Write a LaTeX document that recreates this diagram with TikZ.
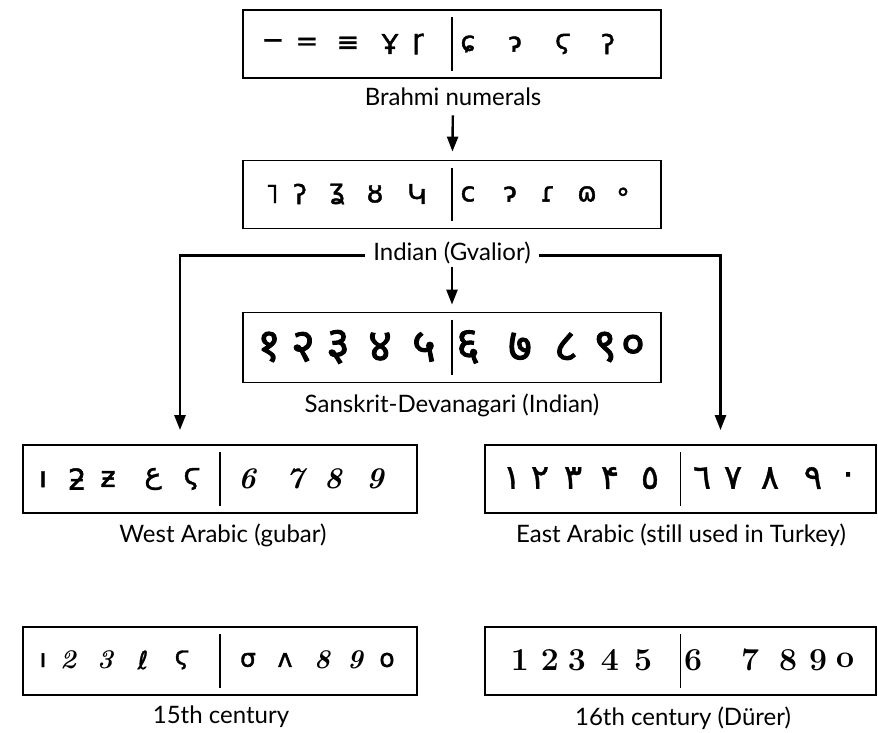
\documentclass[tikz,border=0pt]{standalone}
\usepackage{fontspec}
\setsansfont{Lato}[Ligatures=NoCommon]
\newfontfamily\brahmifont[FakeBold=1.5]{DejaVu Sans}
\newfontfamily\devfont[Script=Devanagari,FakeBold=2]{Noto Sans}
\newfontfamily\arabicfont[Script=Arabic,FakeBold=1]{DejaVu Sans}
\usepackage{tikz}
\usetikzlibrary{arrows.meta}

\tikzset{
  numbox/.style={draw,line width=1.8pt,minimum width=#1,minimum height=68pt,inner sep=0pt},
  numbox/.default=418pt,
  divider/.style={line width=1.8pt},
  caption/.style={anchor=base,inner sep=0pt,font=\sffamily\fontsize{24}{28}\selectfont},
  glyph/.style={inner sep=0pt,font=#1},
  link/.style={line width=2.4pt}
}

\begin{document}
\begin{tikzpicture}[x=1pt,y=-1pt,>={Triangle[length=15pt,width=11pt]}]
                \useasboundingbox(0,0)rectangle(878,733);
                \node[numbox](brahmi)at(452, 44){};
                \node[numbox](gvalior)at(452, 194.5){};
                \node[numbox,minimum height=70pt](sanskrit)at(452, 347.5){};
                \node[numbox=394pt](gubar)at(220, 479){};
                \node[numbox=391pt](eastar)at(680.5, 479){};
                \node[numbox=394pt](xv)at(220, 661){};
                \node[numbox=391pt](xvi)at(680.5, 661){};
                \foreach \b in {brahmi,gvalior,sanskrit,gubar,eastar,xv,xvi}
                    \draw[divider]([yshift=-8pt]\b.north)--([yshift=8pt]\b.south);

                \foreach \g/\x in {−/273,=/307,≡/348,Ұ/390,ɼ/418,ɕ/468,ɂ/515,ϛ/563,ʔ/608}
                    \node[glyph=\brahmifont\fontsize{27}{30}\selectfont](br\x)at(\x, 44){\g};
                \foreach \g/\x in {˥/272,ʔ/300,ʓ/337,ȣ/375,Կ/417,ϲ/468,ɂ/510,ɾ/548,ɷ/587,∘/623}
                    \node[glyph=\brahmifont\fontsize{27}{30}\selectfont](gv\x)at(\x, 194){\g};
                \foreach \g/\x in {१/269,२/303,३/338,४/380,५/424,६/468,७/520,८/566,९/605,०/633}
                    \node[glyph=\devfont\fontsize{46}{50}\selectfont](sk\x)at(\x, 347){\g};
                \foreach \g/\x in {ı/43,ƻ/77,ƶ/108,{\arabicfont ع}/153,ϛ/192}
                    \node[glyph=\brahmifont\fontsize{29}{32}\selectfont](wa\x)at(\x, 479){\g};
                \foreach \g/\x in {6/247,7/295,8/333,9/375}
                    \node[glyph=\rmfamily\bfseries\itshape\fontsize{30}{34}\selectfont](wa\x)at(\x, 479){\g};
                \foreach \g/\x in {١/512,٢/540,٣/573,۴/610,٥/650,٦/702,٧/733,٨/770,٩/813,٠/848}
                    \node[glyph=\arabicfont\fontsize{34}{38}\selectfont](ea\x)at(\x, 478){\g};
                \foreach \g/\x in {ı/43,ℓ/143,ϛ/182,σ/248,ʌ/285,o/387}
                    \node[glyph=\brahmifont\fontsize{25}{28}\selectfont](cv\x)at(\x, 660){\g};
                \foreach \g/\x in {2/68,3/105,8/322,9/355}
                    \node[glyph=\rmfamily\bfseries\itshape\fontsize{27}{32}\selectfont](cv\x)at(\x, 660){\g};
                \foreach \g/\x in {1/520,2/550,3/577,4/610,5/643,6/693,7/750,8/788,9/818,o/845}
                    \node[glyph=\rmfamily\bfseries\fontsize{32}{36}\selectfont](dr\x)at(\x, 660){\g};

                \node[caption](brahmiT)at(453, 106){Brahmi numerals};
                \node[caption](gvaliorT)at(452, 260){Indian (Gvalior)};
                \node[caption](sanskritT)at(452, 412){Sanskrit-Devanagari (Indian)};
                \node[caption](gubarT)at(223, 542){West Arabic (gubar)};
                \node[caption](eastarT)at(681, 542){East Arabic (still used in Turkey)};
                \node[caption](xvT)at(221, 723){15th century};
                \node[caption](xviT)at(683, 725){16th century (Dürer)};

                \draw[link,->,shorten <=9pt,shorten >=8pt](brahmiT)--(gvalior);
                \draw[link,->,shorten <=3pt,shorten >=7pt](gvaliorT)--(sanskrit);
                \draw[link,->]([xshift=-8pt,yshift=-3pt]gvaliorT.west)-|([xshift=-40pt,yshift=14pt]gubar.north);
                \draw[link,->]([xshift=8pt,yshift=-3pt]gvaliorT.east)-|([xshift=40pt,yshift=14pt]eastar.north);
\end{tikzpicture}
\end{document}
